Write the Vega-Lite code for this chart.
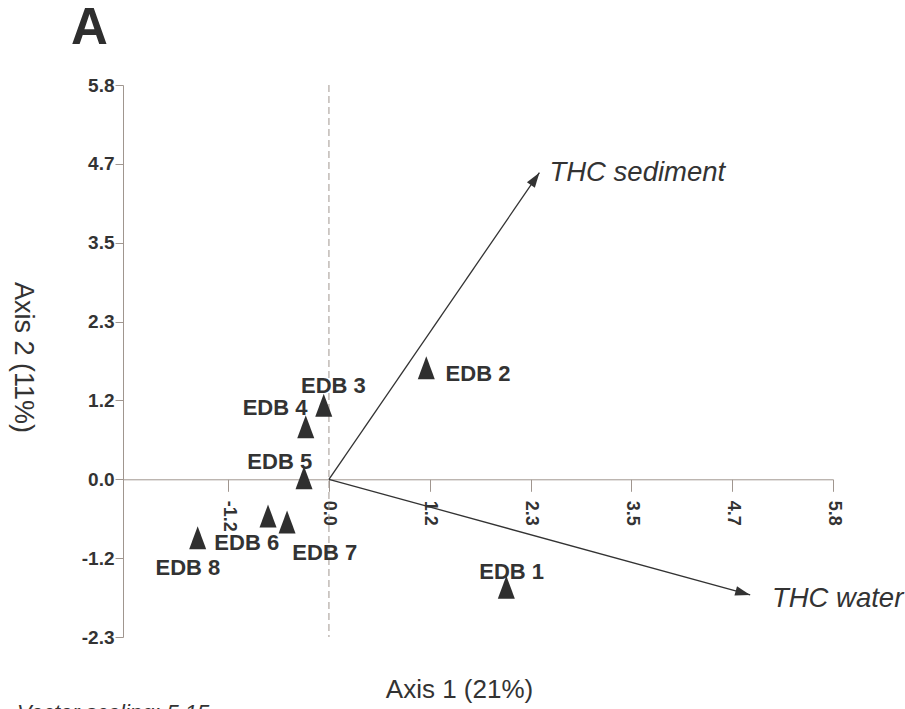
{
  "$schema": "https://vega.github.io/schema/vega-lite/v6.json",
  "width": 710,
  "height": 552,
  "autosize": {"type": "none"},
  "padding": {"left": 123, "top": 85, "right": 72, "bottom": 72},
  "background": "white",
  "title": {"text": "A", "anchor": "start", "frame": "group", "fontSize": 51, "fontWeight": "bold", "font": "Liberation Sans", "color": "#2e2e2e", "baseline": "alphabetic", "offset": 39, "dy": 58, "dx": -52},
  "config": {
    "view": {"stroke": null},
    "axis": {"grid": false, "domainColor": "#a0968f", "tickColor": "#a0968f", "labelFont": "Liberation Sans", "titleFont": "Liberation Sans", "labelColor": "#333333", "titleColor": "#333333", "labelFontWeight": "bold", "titleFontWeight": "normal", "labelFlush": false, "labelOverlap": false}
  },
  "layer": [
    {
      "data": {"values": [{"v": 0}]},
      "mark": {"type": "rule", "strokeDash": [7, 4], "color": "#a0968f", "strokeWidth": 1},
      "encoding": {
        "x": {"field": "v", "type": "quantitative", "scale": {"domain": [-2.38, 5.825], "nice": false, "zero": false},
          "axis": {"title": "Axis 1 (21%)", "values": [-1.165, 0, 1.165, 2.33, 3.495, 4.66, 5.825], "labelExpr": "replace(format(datum.value, '.1f'), '\u2212', '-')", "labelAngle": 90, "labelAlign": "left", "labelBaseline": "middle", "labelPadding": 9, "tickSize": 12, "labelFontSize": 18, "offset": -157.7, "titleFontSize": 26, "titleX": 336, "titleY": 218, "titleBaseline": "alphabetic", "titleAlign": "center"}}
      }
    },
    {
      "data": {"values": [
        {"name": "THC sediment", "x": 2.432, "y": 4.529},
        {"name": "THC water", "x": 4.868, "y": -1.709}
      ]},
      "mark": {"type": "rule", "color": "#333333", "strokeWidth": 1.3},
      "encoding": {
        "x": {"field": "x", "type": "quantitative", "scale": {"domain": [-2.38, 5.825], "nice": false, "zero": false}},
        "y": {"field": "y", "type": "quantitative", "scale": {"domain": [-2.33, 5.825], "nice": false, "zero": false}},
        "x2": {"datum": 0},
        "y2": {"datum": 0}
      }
    },
    {
      "data": {"values": [
        {"name": "THC sediment", "x": 2.432, "y": 4.529},
        {"name": "THC water", "x": 4.868, "y": -1.709}
      ]},
      "mark": {"type": "point", "shape": "M0,0L-0.32,1L0.32,1Z", "filled": true, "opacity": 1, "size": 900, "color": "#333333"},
      "encoding": {
        "x": {"field": "x", "type": "quantitative", "scale": {"domain": [-2.38, 5.825], "nice": false, "zero": false}},
        "y": {"field": "y", "type": "quantitative", "scale": {"domain": [-2.33, 5.825], "nice": false, "zero": false}},
        "angle": {"condition": {"test": "datum.name == 'THC water'", "value": 105.4}, "value": 34.5}
      }
    },
    {
      "data": {"values": [
        {"name": "THC sediment", "lx": 2.548, "ly": 4.411},
        {"name": "THC water", "lx": 5.119, "ly": -1.882}
      ]},
      "mark": {"type": "text", "font": "Liberation Sans", "fontStyle": "italic", "fontSize": 27.5, "color": "#333333", "align": "left", "baseline": "alphabetic"},
      "encoding": {
        "x": {"field": "lx", "type": "quantitative", "scale": {"domain": [-2.38, 5.825], "nice": false, "zero": false}},
        "y": {"field": "ly", "type": "quantitative", "scale": {"domain": [-2.33, 5.825], "nice": false, "zero": false}},
        "text": {"field": "name"}
      }
    },
    {
      "data": {"values": [
        {"label": "EDB 1", "x": 2.05, "y": -1.595},
        {"label": "EDB 2", "x": 1.125, "y": 1.648},
        {"label": "EDB 3", "x": -0.06, "y": 1.093},
        {"label": "EDB 4", "x": -0.268, "y": 0.777},
        {"label": "EDB 5", "x": -0.288, "y": 0.024},
        {"label": "EDB 6", "x": -0.704, "y": -0.542},
        {"label": "EDB 7", "x": -0.484, "y": -0.631},
        {"label": "EDB 8", "x": -1.517, "y": -0.863}
      ]},
      "mark": {"type": "point", "shape": "M-0.74,1L0,-1L0.74,1Z", "filled": true, "opacity": 1, "size": 529, "color": "#2f2f2f"},
      "encoding": {
        "x": {"field": "x", "type": "quantitative", "scale": {"domain": [-2.38, 5.825], "nice": false, "zero": false}},
        "y": {"field": "y", "type": "quantitative", "scale": {"domain": [-2.33, 5.825], "nice": false, "zero": false},
          "axis": {"title": "Axis 2 (11%)", "values": [-2.33, -1.165, 0, 1.165, 2.33, 3.495, 4.66, 5.825], "labelExpr": "replace(format(datum.value, '.1f'), '\u2212', '-')", "tickSize": 8, "labelPadding": 1, "labelFontSize": 19, "titleAngle": 90, "titleX": -101, "titleY": 272, "titleAlign": "center", "titleBaseline": "middle", "titleFontSize": 27}}
      }
    },
    {
      "data": {"values": [
        {"label": "EDB 1", "lx": 2.111, "ly": -1.473},
        {"label": "EDB 2", "lx": 1.722, "ly": 1.452},
        {"label": "EDB 3", "lx": 0.051, "ly": 1.27},
        {"label": "EDB 4", "lx": -0.623, "ly": 0.95},
        {"label": "EDB 5", "lx": -0.569, "ly": 0.148},
        {"label": "EDB 6", "lx": -0.95, "ly": -1.044},
        {"label": "EDB 7", "lx": -0.049, "ly": -1.192},
        {"label": "EDB 8", "lx": -1.63, "ly": -1.414}
      ]},
      "mark": {"type": "text", "font": "Liberation Sans", "fontWeight": "bold", "fontSize": 22, "color": "#333333", "align": "center", "baseline": "alphabetic"},
      "encoding": {
        "x": {"field": "lx", "type": "quantitative", "scale": {"domain": [-2.38, 5.825], "nice": false, "zero": false}},
        "y": {"field": "ly", "type": "quantitative", "scale": {"domain": [-2.33, 5.825], "nice": false, "zero": false}},
        "text": {"field": "label"}
      }
    },
    {
      "data": {"values": [{"note": "Vector scaling: 5.15", "lx": -3.606, "ly": -3.304}]},
      "mark": {"type": "text", "font": "Liberation Sans", "fontStyle": "italic", "fontSize": 22, "color": "#333333", "align": "left", "baseline": "top"},
      "encoding": {
        "x": {"field": "lx", "type": "quantitative", "scale": {"domain": [-2.38, 5.825], "nice": false, "zero": false}},
        "y": {"field": "ly", "type": "quantitative", "scale": {"domain": [-2.33, 5.825], "nice": false, "zero": false}},
        "text": {"field": "note"}
      }
    }
  ]
}
